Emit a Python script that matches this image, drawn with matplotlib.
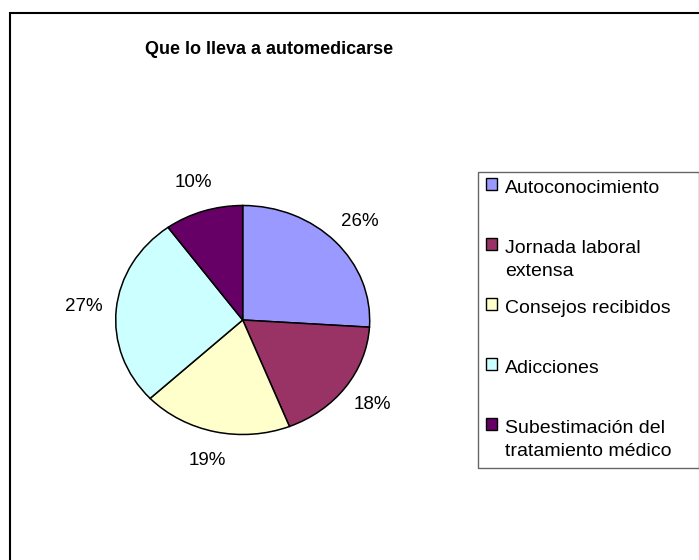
import matplotlib
matplotlib.use("Agg")
import matplotlib.pyplot as plt
import matplotlib.patches as mpatches
from matplotlib.legend_handler import HandlerPatch

# ---- data ----
categories = ["Autoconocimiento", "Jornada laboral extensa", "Consejos recibidos",
              "Adicciones", "Subestimación del tratamiento médico"]
values = [26, 18, 19, 27, 10]
legend_labels = ["Autoconocimiento\n ", "Jornada laboral\nextensa", "Consejos recibidos\n ",
                 "Adicciones\n ", "Subestimación del\ntratamiento médico"]
colors = ["#9999FF", "#993366", "#FFFFCC", "#CCFFFF", "#660066"]
title = "Que lo lleva a automedicarse"

plt.rcParams['font.family'] = ['Liberation Sans', 'DejaVu Sans']

W, H = 699, 560
fig = plt.figure(figsize=(W / 100, H / 100), dpi=100)
fig.patch.set_facecolor("white")

# outer chart-area border (left/top visible; right/bottom fall outside the image)
border = mpatches.Rectangle((10 / W, -0.2), 1.2, 1 - 13 / H + 0.2,
                            transform=fig.transFigure, fill=False,
                            edgecolor="black", linewidth=1.5, clip_on=False)
fig.patches.append(border)

# pie axes: ellipse bbox
cx, cy, rx, ry = 242.7, 320.0, 127.0, 114.5
ax = fig.add_axes([(cx - rx) / W, 1 - (cy + ry) / H, 2 * rx / W, 2 * ry / H])
wedges, texts, autotexts = ax.pie(
    values, colors=colors, startangle=90, counterclock=False,
    autopct='%1.0f%%', pctdistance=1.26,
    wedgeprops=dict(edgecolor="black", linewidth=1.1, clip_on=False),
    textprops=dict(fontsize=13.5, color="black"))
for w in wedges:
    w.set_clip_on(False)
ax.set_aspect('auto')
ax.set_xlim(-1, 1)
ax.set_ylim(-1, 1)
ax.axis('off')

fig.text(269 / W, 1 - 50 / H, title, ha='center', va='center',
         fontsize=13, fontweight='bold')


def shifted_square(legend, orig_handle, xdescent, ydescent, width, height, fontsize):
    return mpatches.Rectangle((-xdescent, -ydescent + 0.8 * fontsize), width, height)


handles = [mpatches.Patch(facecolor=c, edgecolor="black", linewidth=1.0) for c in colors]
leg = fig.legend(handles, legend_labels,
                 loc='upper left',
                 bbox_to_anchor=(478 / W, 1 - 468 / H, 221 / W, 296 / H),
                 mode='expand', fontsize=14, frameon=True, fancybox=False,
                 borderpad=0.4, labelspacing=1.0, handlelength=0.6,
                 handleheight=0.6, handletextpad=0.4, borderaxespad=0,
                 handler_map={mpatches.Patch: HandlerPatch(patch_func=shifted_square)})
for t in leg.get_texts():
    t.set_linespacing(1.5)
leg.get_frame().set_edgecolor("#404040")
leg.get_frame().set_linewidth(1.0)

fig.savefig("out.png", dpi=100)
